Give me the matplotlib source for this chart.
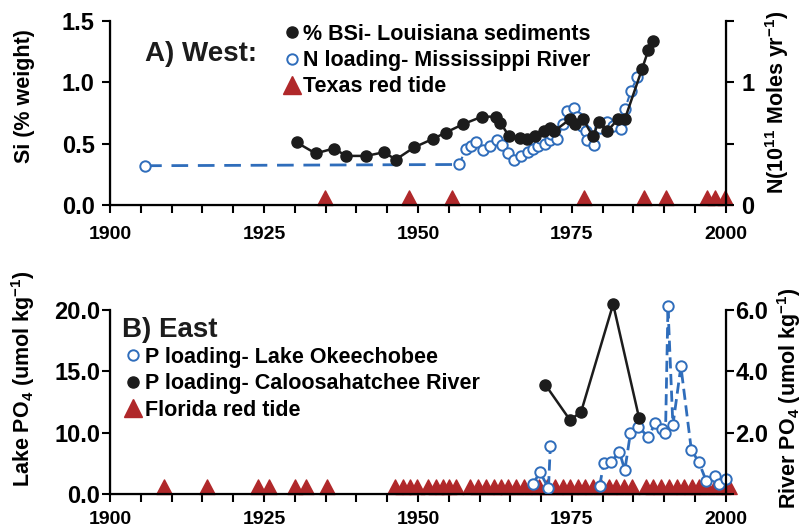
import numpy as np
import matplotlib
matplotlib.use("Agg")
import matplotlib.pyplot as plt
from matplotlib.lines import Line2D
from matplotlib.path import Path
from matplotlib.ticker import MultipleLocator

plt.rcParams['font.family'] = ['Liberation Sans', 'DejaVu Sans']
plt.rcParams['font.weight'] = 'bold'
plt.rcParams['mathtext.default'] = 'regular'

# ---- West: Louisiana / Mississippi ----
bsi_year = [1930.3, 1933.4, 1936.3, 1938.4, 1941.6, 1944.5, 1946.4, 1949.4,
            1952.5, 1954.5, 1957.4, 1960.4, 1962.7, 1963.4, 1964.8, 1966.6,
            1967.7, 1969.0, 1970.5, 1971.4, 1972.1, 1974.7, 1975.5, 1976.8,
            1978.4, 1979.4, 1980.7, 1982.5, 1983.6, 1986.4, 1987.4, 1988.2]
bsi_pct = [0.51, 0.42, 0.46, 0.40, 0.40, 0.43, 0.37, 0.47,
           0.54, 0.59, 0.66, 0.72, 0.72, 0.67, 0.56, 0.55,
           0.54, 0.56, 0.60, 0.63, 0.60, 0.70, 0.66, 0.70,
           0.56, 0.68, 0.60, 0.70, 0.70, 1.11, 1.26, 1.34]

n_year = [1905.7, 1956.7, 1957.8, 1958.6, 1959.5, 1960.5, 1961.7, 1962.8,
          1963.7, 1964.6, 1965.6, 1966.7, 1967.8, 1968.7, 1969.5, 1969.8,
          1970.6, 1971.4, 1971.6, 1972.6, 1973.6, 1974.2, 1975.4, 1975.8,
          1976.6, 1977.3, 1977.4, 1978.6, 1979.5, 1980.7, 1981.7, 1982.9,
          1983.6, 1984.6, 1985.6]
n_load = [0.32, 0.33, 0.46, 0.48, 0.51, 0.45, 0.48, 0.53,
          0.49, 0.42, 0.37, 0.40, 0.43, 0.46, 0.48, 0.55,
          0.50, 0.53, 0.58, 0.54, 0.66, 0.77, 0.79, 0.72,
          0.64, 0.60, 0.53, 0.49, 0.63, 0.68, 0.64, 0.62,
          0.78, 0.93, 1.04]

texas_tide = [1934.9, 1948.5, 1955.6, 1976.9, 1986.7, 1990.3, 1996.9, 1998.2, 1999.8]

# ---- East: Florida ----
lake_year = [1968.7, 1969.8, 1971.2, 1971.5, np.nan, 1979.5, 1980.2, 1981.4,
             1982.7, 1983.6, 1984.5, 1985.8, 1987.4, 1988.5, 1989.6, 1990.2,
             1990.6, 1991.4, 1992.7, 1994.4, 1995.6, 1996.8, 1998.3, 1998.9,
             2000.1]
lake_po4 = [1.6, 3.6, 0.95, 7.85, np.nan, 1.3, 5.1, 5.25,
            6.9, 3.9, 9.9, 10.5, 9.25, 10.75, 10.3, 9.9,
            20.3, 10.6, 15.4, 7.15, 5.25, 2.15, 2.95, 1.6,
            2.4]

river_year = [1970.7, 1974.7, 1976.5, 1981.7, 1985.9]
river_po4 = [3.56, 2.41, 2.68, 6.19, 2.49]

florida_tide = [1908.7, 1915.8, 1924.0, 1925.8, 1930.1, 1931.8, 1935.3,
                1946.2, 1947.5, 1948.7, 1949.9, 1951.7, 1952.9, 1954.0, 1955.1,
                1956.2, 1958.5, 1959.8, 1961.0, 1962.3, 1963.5, 1964.7, 1966.0,
                1967.2, 1968.5, 1969.7, 1971.0, 1972.2, 1973.5, 1974.7, 1976.0,
                1977.2, 1978.5, 1979.7, 1981.0, 1982.2, 1983.5, 1984.7, 1987.0,
                1988.2, 1989.5, 1990.7, 1992.0, 1993.2, 1994.5, 1995.7, 1997.0,
                1998.2, 1999.5, 2000.5]

# lake axis labels sit on the river tick positions
lake_ticks = [0.0, 10.0, 15.0, 20.0]
river_ticks = [0.0, 2.0, 4.0, 6.0]

BLUE = '#2f6dbb'
RED = '#b0282a'
BLACK = '#1c1c1c'

# triangle whose base sits on the baseline
tri = Path([(-1, 0), (1, 0), (0, 1.9), (-1, 0)],
           [Path.MOVETO, Path.LINETO, Path.LINETO, Path.CLOSEPOLY])


def lake_to_axis(v):
    v = np.asarray(v, dtype=float)
    out = np.interp(v, lake_ticks, river_ticks)
    return out + np.clip(v - lake_ticks[-1], 0, None) * 0.4


def style_axes(ax, axr, pad, xpad):
    ax.set_xlim(1900, 2000)
    ax.spines['top'].set_visible(False)
    axr.spines['top'].set_visible(False)
    for sp in ['left', 'bottom']:
        ax.spines[sp].set_linewidth(1.6)
    axr.spines['right'].set_linewidth(1.6)
    ax.xaxis.set_major_locator(MultipleLocator(25))
    ax.xaxis.set_minor_locator(MultipleLocator(5))
    ax.tick_params(axis='x', which='both', direction='out', length=6, width=1.5,
                   labelsize=14, pad=xpad)
    ax.tick_params(axis='y', direction='out', length=6, width=1.5,
                   labelsize=17, pad=pad)
    axr.tick_params(axis='y', direction='out', length=6, width=1.5,
                    labelsize=17, pad=pad)


def legend_handles(order):
    hs = {'bsi': Line2D([], [], ls='none', marker='o', ms=8, color=BLACK),
          'open': Line2D([], [], ls='none', marker='o', ms=7.5, mfc='white',
                         mec=BLUE, mew=1.4),
          'tide': Line2D([], [], ls='none', marker='^', ms=13, color=RED)}
    return [hs[k] for k in order]


fig = plt.figure(figsize=(8.04, 5.31), dpi=100)
ax1 = fig.add_axes([0.1368, 0.614, 0.766, 0.3465])
ax1r = ax1.twinx()
ax2 = fig.add_axes([0.1368, 0.0697, 0.766, 0.3465])
ax2r = ax2.twinx()

# ---- top panel ----
ax1.plot(texas_tide, np.zeros(len(texas_tide)), ls='none', marker=tri, ms=21,
         color=RED, clip_on=False, zorder=2)
ax1.plot(n_year[:2], n_load[:2], ls=(0, (6, 3.5)), lw=2, color=BLUE, zorder=3)
ax1.plot(n_year[1:], n_load[1:], ls=(0, (4, 2)), lw=1.5, color=BLUE,
         marker='o', ms=7.5, mfc='white', mec=BLUE, mew=1.4, zorder=3)
ax1.plot(n_year[0], n_load[0], marker='o', ms=7.5, mfc='white', mec=BLUE,
         mew=1.4, zorder=3)
ax1.plot(bsi_year, bsi_pct, '-', lw=1.8, color=BLACK, marker='o', ms=8,
         zorder=4)

ax1.set_ylim(0, 1.5)
ax1r.set_ylim(0, 1.5)
ax1.set_yticks([0, 0.5, 1.0, 1.5])
ax1.set_yticklabels(['0.0', '0.5', '1.0', '1.5'])
ax1r.set_yticks([0, 0.5, 1.0, 1.5])
ax1r.set_yticklabels(['0', '', '1', ''])
style_axes(ax1, ax1r, 5, 9)
ax1.set_ylabel('Si (% weight)', fontsize=15.5, fontweight='bold')
ax1.yaxis.set_label_coords(-0.122, 0.59)
ax1r.set_ylabel('N(10$^{11}$ Moles yr$^{-1}$)', fontsize=15.5, fontweight='bold')
ax1r.yaxis.set_label_coords(1.060, 0.56)

ax1.text(0.057, 0.82, 'A) West:', transform=ax1.transAxes, fontsize=20,
         fontweight='bold', va='center', ha='left', color=BLACK)

ax1.legend(legend_handles(['bsi', 'open', 'tide']),
           ['% BSi- Louisiana sediments', 'N loading- Mississippi River',
            'Texas red tide'],
           loc='upper left', bbox_to_anchor=(0.281, 0.985), frameon=False,
           fontsize=15.5, borderpad=0, borderaxespad=0, handlelength=0.8,
           handletextpad=0.15, labelspacing=0.25)

# ---- bottom panel ----
ax2.plot(florida_tide, np.zeros(len(florida_tide)), ls='none', marker=tri, ms=21,
         color=RED, clip_on=False, zorder=2)
ax2.plot(lake_year, lake_to_axis(lake_po4), ls=(0, (4, 2)), lw=2, color=BLUE,
         marker='o', ms=7.5, mfc='white', mec=BLUE, mew=1.4, zorder=3,
         clip_on=False)
ax2.plot(river_year, river_po4, '-', lw=1.8, color=BLACK, marker='o', ms=8,
         zorder=4, clip_on=False)

ax2.set_ylim(0, 6)
ax2r.set_ylim(0, 6)
ax2.set_yticks(river_ticks)
ax2.set_yticklabels(['%.1f' % v for v in lake_ticks])
ax2r.set_yticks(river_ticks)
ax2r.set_yticklabels(['', '2.0', '4.0', '6.0'])
style_axes(ax2, ax2r, 1, 6)
ax2.set_ylabel('Lake PO$_4$ (umol kg$^{-1}$)', fontsize=15.5, fontweight='bold')
ax2.yaxis.set_label_coords(-0.1185, 0.625)
ax2r.set_ylabel('River PO$_4$ (umol kg$^{-1}$)', fontsize=15.5, fontweight='bold')
ax2r.yaxis.set_label_coords(1.080, 0.52)

ax2.text(0.019, 0.891, 'B) East', transform=ax2.transAxes, fontsize=20,
         fontweight='bold', va='center', ha='left', color=BLACK)

ax2.legend(legend_handles(['open', 'bsi', 'tide']),
           ['P loading- Lake Okeechobee', 'P loading- Caloosahatchee River',
            'Florida red tide'],
           loc='upper left', bbox_to_anchor=(0.024, 0.80), frameon=False,
           fontsize=15.5, borderpad=0, borderaxespad=0, handlelength=0.8,
           handletextpad=0.15, labelspacing=0.25)

fig.savefig('out.png', dpi=100)
